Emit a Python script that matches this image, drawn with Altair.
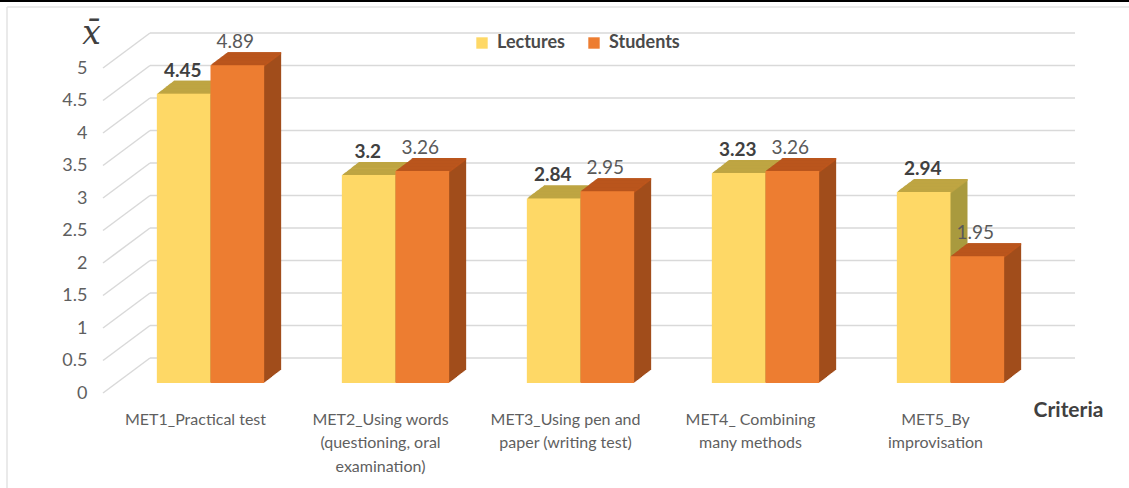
import altair as alt
import pandas as pd

# ---- data -------------------------------------------------------------
criteria = [
    "MET1_Practical test",
    "MET2_Using words\n(questioning, oral\nexamination)",
    "MET3_Using pen and\npaper (writing test)",
    "MET4_ Combining\nmany methods",
    "MET5_By\nimprovisation",
]
lectures = [4.45, 3.2, 2.84, 3.23, 2.94]
students = [4.89, 3.26, 2.95, 3.26, 1.95]
series_names = ["Lectures", "Students"]
y_ticks = [0, 0.5, 1, 1.5, 2, 2.5, 3, 3.5, 4, 4.5, 5]

rows = []
for c, lv, sv in zip(criteria, lectures, students):
    rows.append({"criterion": c, "series": "Lectures", "value": lv, "label": f"{lv:g}"})
    rows.append({"criterion": c, "series": "Students", "value": sv, "label": f"{sv:g}"})
df = pd.DataFrame(rows)
ticks_df = pd.DataFrame({"value": y_ticks})
one_row = pd.DataFrame({"k": [0]})

# ---- styling ----------------------------------------------------------
FONT = "Lato"
front = {"Lectures": "#FED866", "Students": "#ED7D31"}
top = {"Lectures": "#C4A845", "Students": "#C0571C"}
side = {"Lectures": "#A99A3E", "Students": "#A24E1C"}

PLOT_W, PLOT_H = 925, 325
PAD_INNER, PAD_OUTER = 0.42, 0.21
STEP = PLOT_W / (len(criteria) - PAD_INNER + 2 * PAD_OUTER)
HALF = STEP * (1 - PAD_INNER) / 4          # half of one bar's width
shift = {"Lectures": -HALF, "Students": HALF}

# oblique projection: bars sit half-way into the box, back wall further up-right
BAR_DX, BAR_DY = 15, -10     # bar front face relative to the front plane
DEPTH_X, DEPTH_Y = 17, 13    # bar depth
WALL_DX, WALL_DY = 47, -35   # back wall relative to the front plane
STEPS = 17

x_enc = alt.X(
    "criterion:N",
    sort=criteria,
    scale=alt.Scale(paddingInner=PAD_INNER, paddingOuter=PAD_OUTER),
    axis=alt.Axis(
        title="Criteria",
        labelExpr="split(datum.label, '\\n')",
        labelFont=FONT,
        labelFontSize=16,
        labelColor="#5f5f5f",
        labelPadding=18,
        labelLineHeight=23.5,
        labelLimit=400,
        labelAngle=0,
        domain=False,
        ticks=False,
        grid=False,
        titleFont=FONT,
        titleFontSize=21,
        titleFontWeight="bold",
        titleColor="#404040",
        titleX=965,
        titleY=17,
        titleAlign="center",
        titleBaseline="middle",
    ),
)
y_enc = alt.Y(
    "value:Q",
    scale=alt.Scale(domain=[0, 5], nice=False, zero=True),
    axis=alt.Axis(
        values=y_ticks,
        format="~g",
        labelFont=FONT,
        labelFontSize=18,
        labelColor="#5f5f5f",
        labelPadding=16,
        domain=False,
        ticks=False,
        grid=False,
        title="x\u0304",
        titleAngle=0,
        titleFont="DejaVu Serif",
        titleFontStyle="italic",
        titleFontWeight="normal",
        titleFontSize=33,
        titleColor="#404040",
        titleX=-12,
        titleY=-35,
        titleAlign="center",
        titleBaseline="middle",
    ),
)
bar_w = alt.RelativeBandSize(0.5)

layers = []

# back wall gridlines and the diagonal lines of the left wall
layers.append(
    alt.Chart(ticks_df).mark_rule(color="#d9d9d9", strokeWidth=1.5, yOffset=WALL_DY)
    .encode(y=y_enc, x=alt.value(WALL_DX), x2=alt.value(972))
)
layers.append(
    alt.Chart(ticks_df).mark_rule(color="#d9d9d9", strokeWidth=1.5, y2Offset=WALL_DY)
    .encode(y=y_enc, y2=alt.Y2("value:Q"), x=alt.value(0), x2=alt.value(WALL_DX))
)

base = alt.Chart(df)

for s in series_names:
    sub = base.transform_filter(alt.datum.series == s)
    # depth of the box, drawn back to front
    for k in range(STEPS, 0, -1):
        ox = BAR_DX + shift[s] + k * DEPTH_X / STEPS
        oy = BAR_DY - k * DEPTH_Y / STEPS
        layers.append(
            sub.mark_bar(color=side[s], width=bar_w, xOffset=ox, yOffset=oy, y2Offset=oy)
            .encode(x=x_enc, y=y_enc)
        )
        layers.append(
            sub.mark_bar(color=top[s], width=bar_w, xOffset=ox, yOffset=oy, y2Offset=oy + 2)
            .encode(x=x_enc, y=y_enc, y2=alt.Y2("value:Q"))
        )
    # front face (also drives the legend)
    layers.append(
        sub.mark_bar(width=bar_w, xOffset=BAR_DX + shift[s], yOffset=BAR_DY, y2Offset=BAR_DY)
        .encode(
            x=x_enc,
            y=y_enc,
            color=alt.Color(
                "series:N",
                scale=alt.Scale(domain=series_names, range=[front[n] for n in series_names]),
                legend=alt.Legend(
                    orient="none",
                    legendX=370,
                    legendY=-34,
                    direction="horizontal",
                    title=None,
                    labelFont=FONT,
                    labelFontSize=18,
                    labelFontWeight="bold",
                    labelColor="#4a4a4a",
                    symbolType="square",
                    symbolSize=130,
                    symbolStrokeWidth=0,
                    columnPadding=20,
                    labelOffset=6,
                ),
            ),
        )
    )

# value labels
layers.append(
    base.transform_filter(alt.datum.series == "Lectures")
    .mark_text(font=FONT, fontSize=19, fontWeight="bold", color="#404040",
               baseline="middle", xOffset=BAR_DX + shift["Lectures"] - 1, yOffset=BAR_DY - 23)
    .encode(x=x_enc, y=y_enc, text="label:N")
)
layers.append(
    base.transform_filter(alt.datum.series == "Students")
    .mark_text(font=FONT, fontSize=19, color="#595959",
               baseline="middle", xOffset=BAR_DX + shift["Students"] - 2, yOffset=BAR_DY - 23)
    .encode(x=x_enc, y=y_enc, text="label:N")
)

# chart frame
layers.append(
    alt.Chart(one_row).mark_rule(color="#e3e3e3", strokeWidth=1.5)
    .encode(x=alt.value(-96), x2=alt.value(1030), y=alt.value(-61))
)
layers.append(
    alt.Chart(one_row).mark_rule(color="#e3e3e3", strokeWidth=1.5)
    .encode(x=alt.value(-96), y=alt.value(-61), y2=alt.value(420))
)
layers.append(
    alt.Chart(one_row).mark_rule(color="#000000", strokeWidth=2)
    .encode(x=alt.value(-103), x2=alt.value(1030), y=alt.value(-67))
)

chart = (
    alt.layer(*layers)
    .properties(
        width=PLOT_W,
        height=PLOT_H,
        autosize=alt.AutoSizeParams(type="none"),
        padding={"left": 103, "top": 68, "right": 101, "bottom": 95},
        background="white",
    )
    .configure_view(stroke=None)
)

chart.save("out.html", embed_options={"renderer": "svg", "actions": False})
